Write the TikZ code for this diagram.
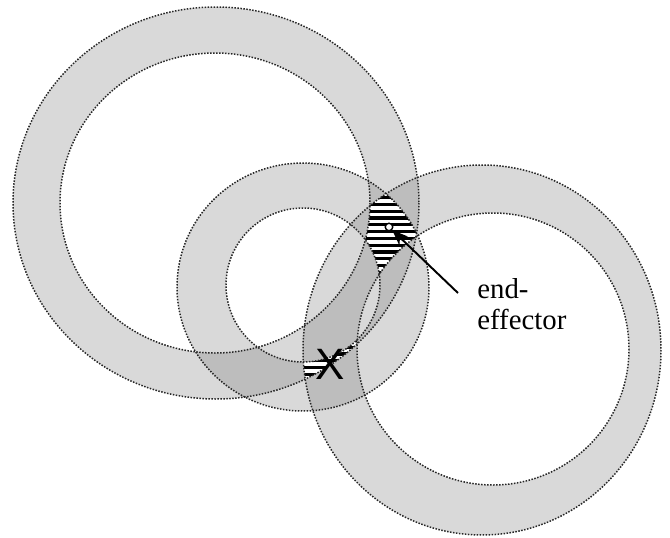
\documentclass[tikz,border=0pt]{standalone}
\usepackage{fontspec}
\setmainfont{Liberation Serif}
\setsansfont{Liberation Sans}
\usetikzlibrary{arrows.meta}

\begin{document}
\begin{tikzpicture}[
    x=0.02cm, y=-0.02cm,
    >={Stealth[length=9pt, width=7pt]},
    ring/.style={fill=black!15},
    overlap/.style={fill=black!26},
    rim/.style={draw=black!85, line width=0.85pt, dash pattern=on 0.85pt off 0.85pt},
    stripe/.style={draw=black, line width=1.85pt},
]
\useasboundingbox (0,0) rectangle (670,538);

% ring sizes
\def\Lout{(216,203) ellipse [x radius=203, y radius=196]}
\def\Lin{(215,203) ellipse [x radius=155, y radius=150]}
\def\Mout{(303,287) ellipse [x radius=126, y radius=124]}
\def\Min{(303,285) circle [radius=77]}
\def\Rout{(482,350) ellipse [x radius=179, y radius=185]}
\def\Rin{(493,349) circle [radius=136]}

% Rings
\fill[ring, even odd rule] \Lout \Lin;
\fill[ring, even odd rule] \Mout \Min;
\fill[ring, even odd rule] \Rout \Rin;

% Overlap of two rings
\begin{scope}[even odd rule]
  \clip \Lout \Lin;
  \fill[overlap] \Mout \Min;
  \fill[overlap] \Rout \Rin;
\end{scope}
\begin{scope}[even odd rule]
  \clip \Mout \Min;
  \fill[overlap] \Rout \Rin;
\end{scope}

% Overlap of all three (hatched)
\begin{scope}[even odd rule]
  \clip \Lout \Lin;
  \clip \Mout \Min;
  \clip \Rout \Rin;
  \fill[white] (0,0) rectangle (670,538);
  \foreach \yy in {150,156.8,...,440}
    \draw[stripe] (0,\yy) -- (670,\yy);
\end{scope}

% Ring outlines
\draw[rim] \Lout \Lin;
\draw[rim] \Mout \Min;
\draw[rim] \Rout \Rin;

% End-effector and the X
\node[circle, draw, line width=0.8pt, fill=white, inner sep=0pt, minimum size=0.15cm] (ee) at (389,227) {};
\node[font=\sffamily\fontsize{25}{25}\selectfont, inner sep=0pt] (cross) at (330,364) {X};

% Label
\node[anchor=north west, align=left, inner sep=0pt, font=\fontsize{16.4}{17.5}\selectfont] (label) at (477,278) {end-\\effector};
\coordinate (tail) at (458,293);
\draw[->, line width=1.1pt] (tail) -- (ee);

\end{tikzpicture}
\end{document}
